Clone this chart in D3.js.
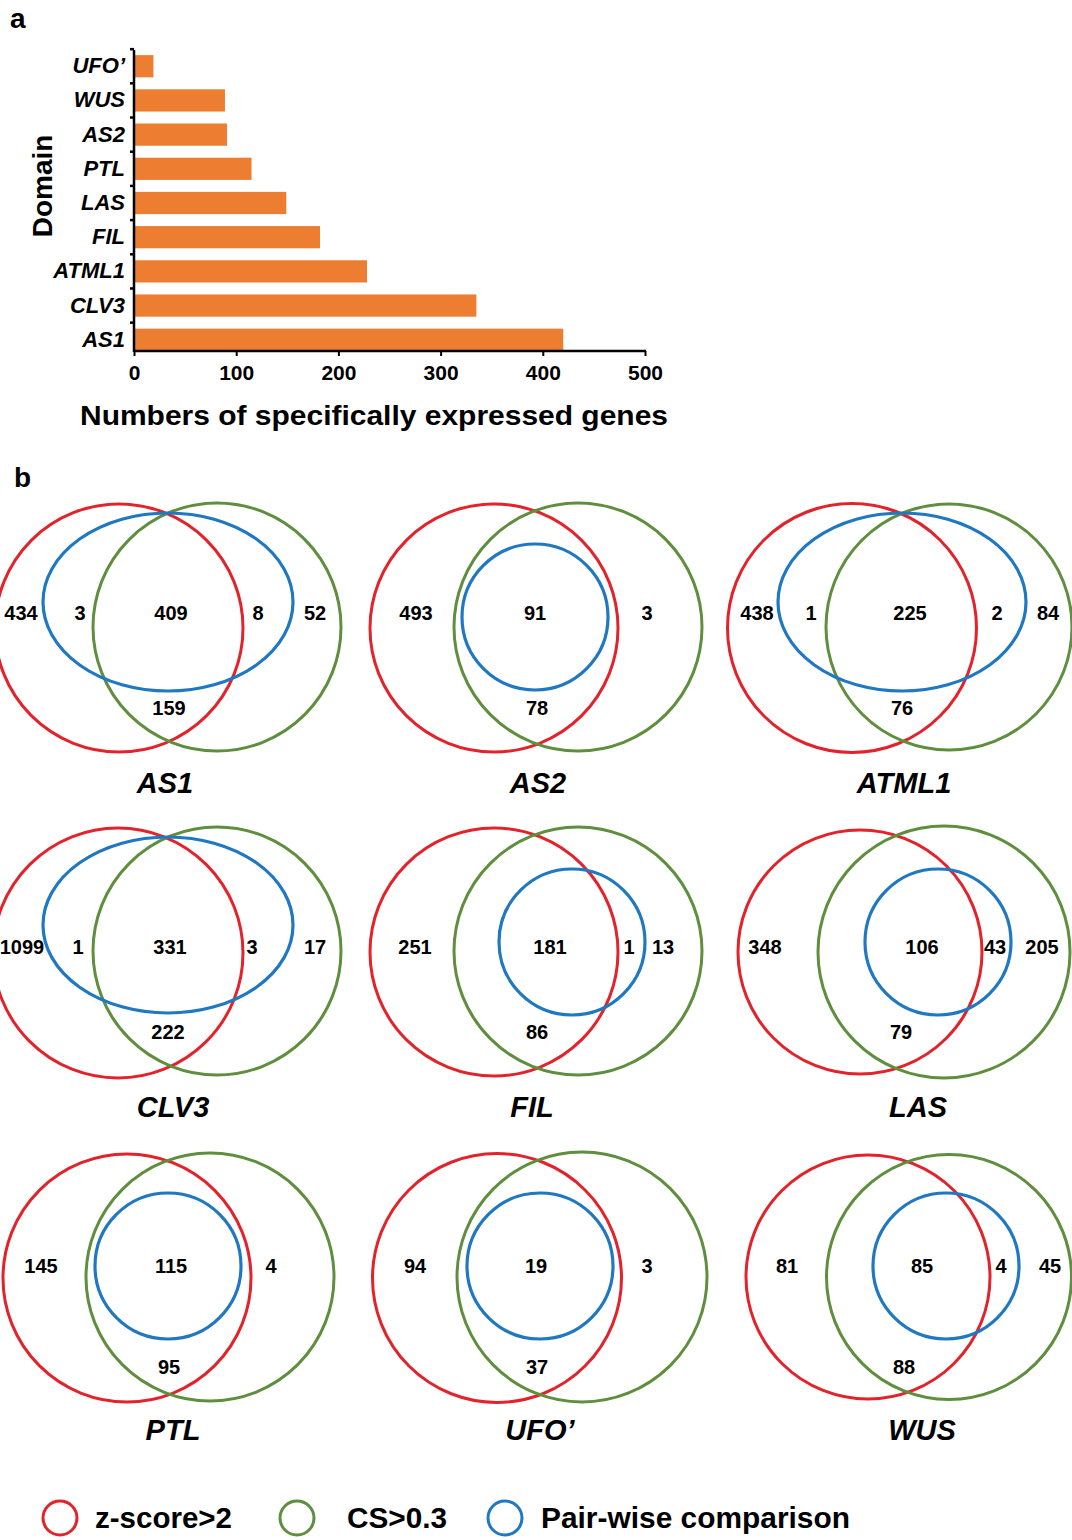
<!DOCTYPE html>
<html>
<head>
<meta charset="utf-8">
<script src="https://cdn.jsdelivr.net/npm/d3@7"></script>
<style>
  body { margin: 0; background: #fff; }
  text { font-family: "Liberation Sans", Arial, sans-serif; font-weight: bold; }
</style>
</head>
<body>
<svg id="fig"></svg>
<script>
// ---- panel a data ----
const domains = ["AS1", "CLV3", "ATML1", "FIL", "LAS", "PTL", "AS2", "WUS", "UFO’"];
const geneCounts = [420, 335, 228, 182, 149, 115, 91, 89, 19];
const xTicks = [0, 100, 200, 300, 400, 500];

// ---- panel b data (region counts per venn) ----
const vennNames = ["AS1", "AS2", "ATML1", "CLV3", "FIL", "LAS", "PTL", "UFO’", "WUS"];
const zOnly = [434, 493, 438, 1099, 251, 348, 145, 94, 81];
const zPairOnly = [3, null, 1, 1, null, null, null, null, null];
const allThree = [409, 91, 225, 331, 181, 106, 115, 19, 85];
const csPairOnly = [8, null, 2, 3, 1, 43, null, null, 4];
const csOnly = [52, 3, 84, 17, 13, 205, 4, 3, 45];
const zCsOnly = [159, 78, 76, 222, 86, 79, 95, 37, 88];
const legendLabels = ["z-score>2", "CS>0.3", "Pair-wise comparison"];

const W = 1072, H = 1540;
const svg = d3.select("#fig").attr("width", W).attr("height", H);

/////////////////////////  panel a: bar chart
const margin = { left: 134, top: 50 };
const axisY = 351;

const xscale = d3.scaleLinear().domain([0, 500]).range([margin.left, 645]);
const yscale = d3.scaleBand().domain(domains).range([356, 50])
  .paddingInner(0.35).paddingOuter(0.15);

const ga = svg.append("g");

ga.selectAll("rect.bar")
  .data(domains.map((d, i) => ({ key: d, value: geneCounts[i] })))
  .join("rect")
  .attr("class", "bar")
  .attr("x", xscale(0) + 1)
  .attr("y", (d) => yscale(d.key))
  .attr("width", (d) => xscale(d.value) - xscale(0) - 1)
  .attr("height", yscale.bandwidth())
  .attr("fill", "#ED7D31");

// x axis
const xaxis = d3.axisBottom(xscale).tickValues(xTicks).tickSize(5).tickSizeOuter(0).tickPadding(9);
const g_xaxis = ga.append("g").attr("transform", `translate(0,${axisY})`).call(xaxis);
g_xaxis.select(".domain").remove();
g_xaxis.selectAll("line").attr("stroke", "#000").attr("stroke-width", 2);
g_xaxis.selectAll("text").attr("font-size", 21).attr("fill", "#000")
  .style("font-family", "'Liberation Sans', Arial, sans-serif").style("font-weight", "bold");

// y axis labels
const yaxis = d3.axisLeft(yscale).tickSize(0).tickPadding(9);
const g_yaxis = ga.append("g").attr("transform", `translate(${margin.left},0)`).call(yaxis);
g_yaxis.select(".domain").remove();
g_yaxis.selectAll("text").attr("font-size", 22).attr("fill", "#000")
  .style("font-family", "'Liberation Sans', Arial, sans-serif")
  .style("font-weight", "bold").style("font-style", "italic");

// small ticks between bands
const gap = (yscale.step() - yscale.bandwidth()) / 2;
ga.selectAll("line.ytick")
  .data(domains)
  .join("line")
  .attr("class", "ytick")
  .attr("x1", margin.left - 4).attr("x2", margin.left)
  .attr("y1", (d) => yscale(d) - gap).attr("y2", (d) => yscale(d) - gap)
  .attr("stroke", "#000").attr("stroke-width", 2.5);

// axis lines
ga.append("line").attr("x1", margin.left).attr("x2", margin.left)
  .attr("y1", margin.top).attr("y2", axisY + 1).attr("stroke", "#000").attr("stroke-width", 2.5);
ga.append("line").attr("x1", margin.left).attr("x2", xscale(500) + 1)
  .attr("y1", axisY).attr("y2", axisY).attr("stroke", "#000").attr("stroke-width", 2.5);

ga.append("text").attr("transform", "translate(52,186) rotate(-90)")
  .attr("text-anchor", "middle").attr("font-size", 28).text("Domain");
ga.append("text").attr("x", 374).attr("y", 425).attr("text-anchor", "middle")
  .attr("font-size", 28).attr("textLength", 588).attr("lengthAdjust", "spacingAndGlyphs")
  .text("Numbers of specifically expressed genes");

svg.append("text").attr("x", 10).attr("y", 28).attr("font-size", 28).text("a");
svg.append("text").attr("x", 14).attr("y", 487).attr("font-size", 28).text("b");

/////////////////////////  panel b: venn diagrams
const colour = d3.scaleOrdinal().domain(["z", "cs", "pw"]).range(["#E3232B", "#5F8F3E", "#1F78C1"]);

const colX = d3.scalePoint().domain([0, 1, 2]).range([168, 902]);
const rowY = d3.scalePoint().domain([0, 1, 2]).range([628, 1278]);

// circle geometry (offsets from the panel centre, px) and label offsets
const vennLayout = [
  { red: [-49, 0, 124], green: [49, -1, 124], blue: [0, -26, 125, 89], ny: -15, ly: 80, lx: [-147, -88, 3, 90, 147, 1], tx: -3, ty: 155 },
  { red: [-41, 0, 124], green: [43, -1, 124], blue: [0, -11, 73, 73], ny: -15, ly: 80, lx: [-119, 0, 0, 0, 112, 2], tx: 3, ty: 155 },
  { red: [-50, 0, 124.5], green: [47, -1, 123], blue: [0, -26, 124, 89], ny: -15, ly: 80, lx: [-145, -91, 8, 95, 146, 0], tx: 2, ty: 155 },
  { red: [-50, 0, 125], green: [49, -2, 124], blue: [0, -28, 125, 88], ny: -6, ly: 79, lx: [-146, -90, 2, 84, 147, 0], tx: 5, ty: 154 },
  { red: [-41, -1, 124], green: [43, -2, 124], blue: [37, -11, 73, 73], ny: -6, ly: 79, lx: [-120, 0, 15, 94, 128, 2], tx: -3, ty: 154 },
  { red: [-42, -1, 122], green: [42, -1, 126], blue: [36, -11, 73, 73], ny: -6, ly: 79, lx: [-137, 0, 20, 93, 140, -1], tx: 16, ty: 154 },
  { red: [-41, 0, 124], green: [42, -1, 124], blue: [0, -12, 73, 73], ny: -12, ly: 89, lx: [-127, 0, 3, 0, 103, 1], tx: 5, ty: 152 },
  { red: [-38, 0, 124.5], green: [47, -1, 125], blue: [5, -12, 73, 73], ny: -12, ly: 89, lx: [-120, 0, 1, 0, 112, 2], tx: 5, ty: 152 },
  { red: [-34, -1, 122], green: [47, -1, 122.5], blue: [44, -12, 73, 73], ny: -12, ly: 89, lx: [-115, 0, 20, 99, 148, 2], tx: 20, ty: 152 },
];

const panels = vennNames.map((name, i) => ({
  name,
  cx: colX(i % 3),
  cy: rowY(Math.floor(i / 3)),
  counts: [zOnly[i], zPairOnly[i], allThree[i], csPairOnly[i], csOnly[i], zCsOnly[i]],
  lay: vennLayout[i],
}));

const gp = svg.append("g").selectAll("g.venn")
  .data(panels)
  .join("g")
  .attr("class", "venn")
  .attr("transform", (d) => `translate(${d.cx},${d.cy})`);

gp.append("ellipse")
  .attr("cx", (d) => d.lay.red[0]).attr("cy", (d) => d.lay.red[1])
  .attr("rx", (d) => d.lay.red[2]).attr("ry", (d) => d.lay.red[2])
  .attr("fill", "none").attr("stroke", colour("z")).attr("stroke-width", 3);
gp.append("ellipse")
  .attr("cx", (d) => d.lay.green[0]).attr("cy", (d) => d.lay.green[1])
  .attr("rx", (d) => d.lay.green[2]).attr("ry", (d) => d.lay.green[2])
  .attr("fill", "none").attr("stroke", colour("cs")).attr("stroke-width", 3);
gp.append("ellipse")
  .attr("cx", (d) => d.lay.blue[0]).attr("cy", (d) => d.lay.blue[1])
  .attr("rx", (d) => d.lay.blue[2]).attr("ry", (d) => d.lay.blue[3])
  .attr("fill", "none").attr("stroke", colour("pw")).attr("stroke-width", 3.2);

// region counts
gp.each(function (p) {
  const labels = p.counts
    .map((v, k) => ({
      v,
      x: p.lay.lx[k],
      y: k === 5 ? p.lay.ly : p.lay.ny,
    }))
    .filter((d) => d.v !== null);
  d3.select(this).selectAll("text.num")
    .data(labels)
    .join("text")
    .attr("class", "num")
    .attr("x", (d) => d.x).attr("y", (d) => d.y)
    .attr("dy", "0.36em")
    .attr("text-anchor", "middle")
    .attr("font-size", 20)
    .text((d) => d.v);
});

gp.append("text")
  .attr("x", (d) => d.lay.tx).attr("y", (d) => d.lay.ty)
  .attr("dy", "0.36em").attr("text-anchor", "middle")
  .attr("font-size", 29).style("font-style", "italic")
  .text((d) => d.name);

/////////////////////////  legend
const legendX = [60, 297, 505];
const textX = [95, 347, 541];
const textW = [137, 100, 309];
const lg = svg.append("g").selectAll("g.leg")
  .data(legendLabels.map((t, i) => ({ t, key: colour.domain()[i], i })))
  .join("g").attr("class", "leg");
lg.append("ellipse")
  .attr("cx", (d) => legendX[d.i]).attr("cy", 1518)
  .attr("rx", 17).attr("ry", 17)
  .attr("fill", "none").attr("stroke", (d) => colour(d.key)).attr("stroke-width", 3);
lg.append("text")
  .attr("x", (d) => textX[d.i]).attr("y", 1528)
  .attr("font-size", 29)
  .attr("textLength", (d) => textW[d.i]).attr("lengthAdjust", "spacingAndGlyphs")
  .text((d) => d.t);
</script>
</body>
</html>
